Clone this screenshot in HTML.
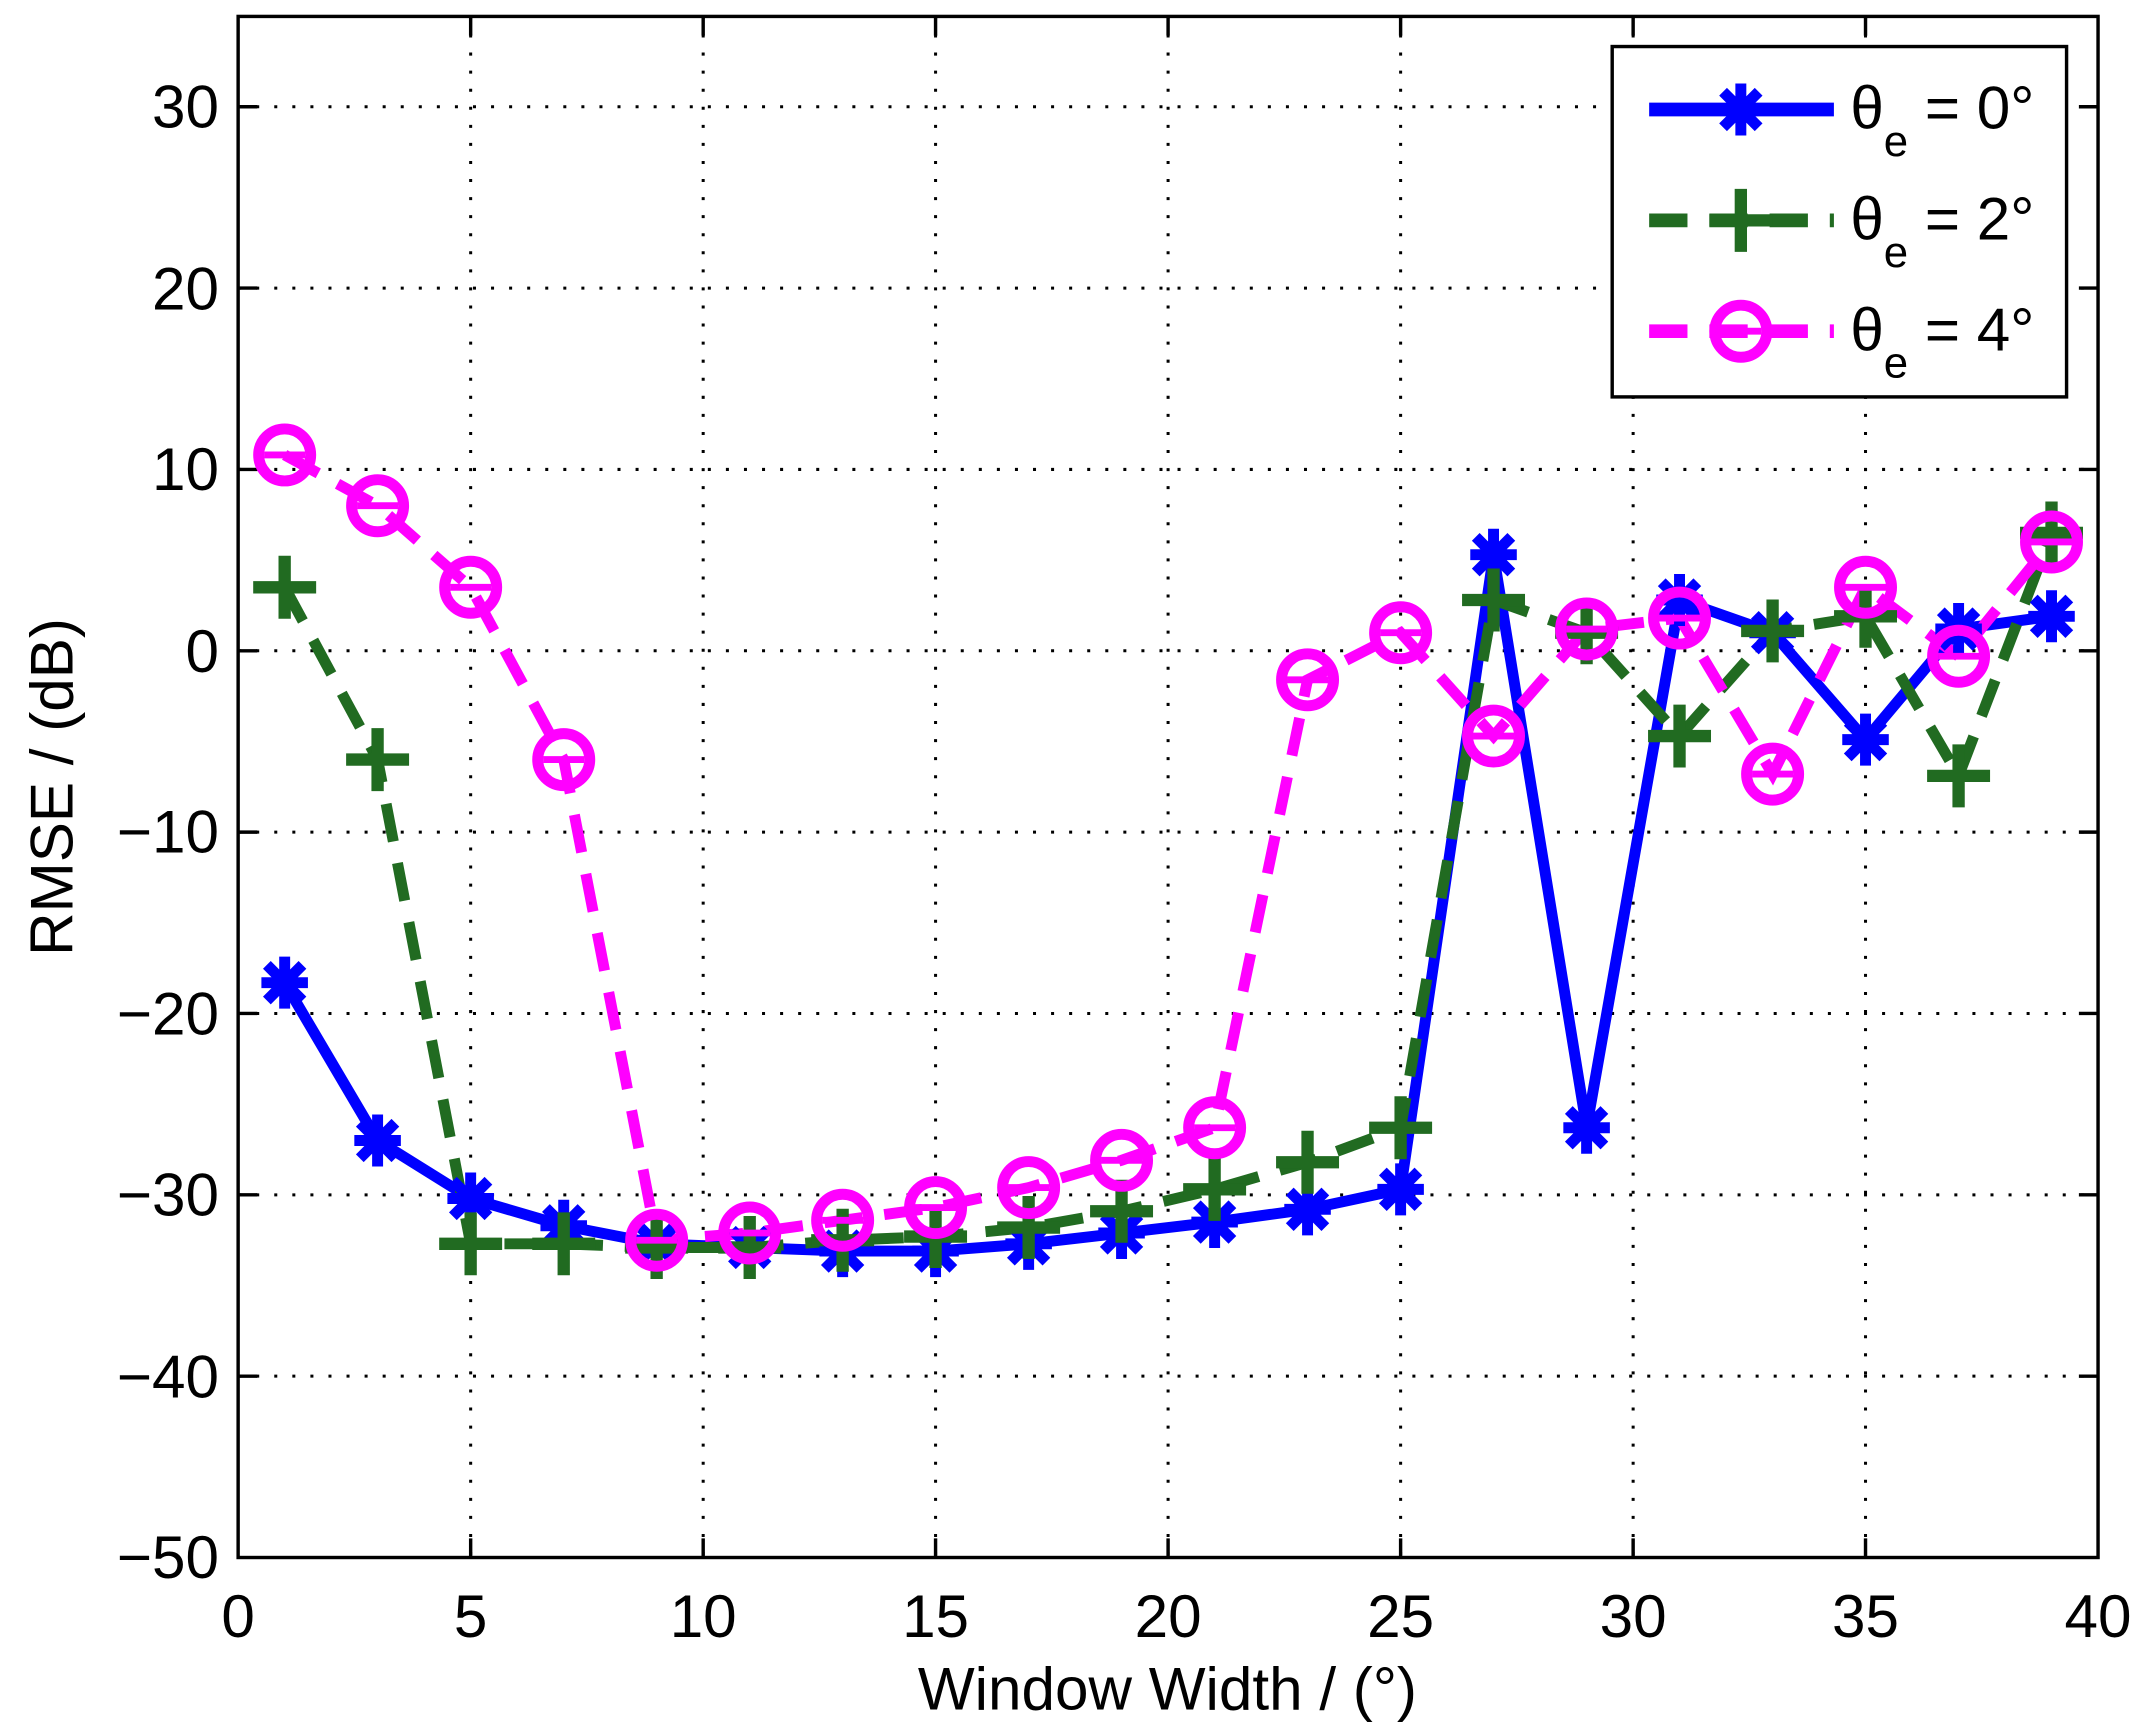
<!DOCTYPE html>
<html><head><meta charset="utf-8"><style>html,body{margin:0;padding:0;background:#fff}svg{display:block}</style></head>
<body>
<svg width="2135" height="1729" viewBox="0 0 1560 1263.3" preserveAspectRatio="none" xmlns="http://www.w3.org/2000/svg" font-family="Liberation Sans, sans-serif">
<rect width="1560" height="1264" fill="#fff"/>
<g stroke="#000" stroke-width="2.2" stroke-dasharray="2.2,11" fill="none">
<line x1="343.9" y1="12" x2="343.9" y2="1138"/><line x1="513.8" y1="12" x2="513.8" y2="1138"/><line x1="683.6" y1="12" x2="683.6" y2="1138"/><line x1="853.5" y1="12" x2="853.5" y2="1138"/><line x1="1023.4" y1="12" x2="1023.4" y2="1138"/><line x1="1193.3" y1="12" x2="1193.3" y2="1138"/><line x1="1363.1" y1="12" x2="1363.1" y2="1138"/>
<line x1="174" y1="78" x2="1533" y2="78"/><line x1="174" y1="210.5" x2="1533" y2="210.5"/><line x1="174" y1="343" x2="1533" y2="343"/><line x1="174" y1="475.5" x2="1533" y2="475.5"/><line x1="174" y1="608" x2="1533" y2="608"/><line x1="174" y1="740.5" x2="1533" y2="740.5"/><line x1="174" y1="873" x2="1533" y2="873"/><line x1="174" y1="1005.5" x2="1533" y2="1005.5"/>
</g>
<g stroke="#000" stroke-width="2.5" fill="none">
<rect x="174" y="12" width="1359" height="1126"/>
<path d="M343.9 1138v-14M513.8 1138v-14M683.6 1138v-14M853.5 1138v-14M1023.4 1138v-14M1193.3 1138v-14M1363.1 1138v-14M343.9 12v14M513.8 12v14M683.6 12v14M853.5 12v14M1023.4 12v14M1193.3 12v14M1363.1 12v14M174 78h14M174 210.5h14M174 343h14M174 475.5h14M174 608h14M174 740.5h14M174 873h14M174 1005.5h14M1533 78h-14M1533 210.5h-14M1533 343h-14M1533 475.5h-14M1533 608h-14M1533 740.5h-14M1533 873h-14M1533 1005.5h-14"/>
</g>
<g font-size="44" fill="#000" text-anchor="end">
<text x="160" y="93">30</text><text x="160" y="226">20</text><text x="160" y="358">10</text><text x="160" y="491">0</text><text x="160" y="623">−10</text><text x="160" y="756">−20</text><text x="160" y="888">−30</text><text x="160" y="1021">−40</text><text x="160" y="1153">−50</text>
</g>
<g font-size="44" fill="#000" text-anchor="middle">
<text x="174" y="1196">0</text><text x="343.9" y="1196">5</text><text x="513.8" y="1196">10</text><text x="683.6" y="1196">15</text><text x="853.5" y="1196">20</text><text x="1023.4" y="1196">25</text><text x="1193.3" y="1196">30</text><text x="1363.1" y="1196">35</text><text x="1533" y="1196">40</text>
<text x="853" y="1249">Window Width / (°)</text>
<text transform="translate(53,575) rotate(-90)">RMSE / (dB)</text>
</g>
<defs>
<g id="st" stroke="#0000ff" stroke-width="8"><path d="M-17 0H17M0 -19V19M-13 -13L13 13M-13 13L13 -13"/></g>
<g id="pl" stroke="#216b21" stroke-width="9"><path d="M-23 0H23M0 -23V23"/></g>
<g id="ci"><circle r="19" fill="none" stroke="#ff00ff" stroke-width="8"/><path d="M-15 0H15" stroke="#ff00ff" stroke-width="5"/></g>
</defs>
<polyline fill="none" stroke="#0000ff" stroke-width="8" stroke-linejoin="round" points="208,718 275.9,833.3 343.9,875.7 411.9,895.6 479.8,908.8 547.8,911.5 615.7,914.1 683.6,914.1 751.6,908.8 819.5,900.9 887.5,892.9 955.4,883.6 1023.4,869 1091.3,405.3 1159.3,824 1227.2,438.4 1295.2,462.3 1363.1,540.4 1431.1,459.6 1499,450.3"/>
<polyline fill="none" stroke="#216b21" stroke-width="8" stroke-dasharray="28,16" points="208,429.1 275.9,555 343.9,908.8 411.9,908.8 479.8,911.5 547.8,911.5 615.7,906.2 683.6,903.5 751.6,896.9 819.5,885 887.5,869 955.4,849.2 1023.4,824 1091.3,438.4 1159.3,462.3 1227.2,537.8 1295.2,461 1363.1,450.3 1431.1,566.9 1499,389.4"/>
<polyline fill="none" stroke="#ff00ff" stroke-width="8" stroke-dasharray="28,16" points="208,332.4 275.9,369.5 343.9,429.1 411.9,555 479.8,906.2 547.8,900.9 615.7,891.6 683.6,882.3 751.6,867.7 819.5,847.8 887.5,824 955.4,496.7 1023.4,462.3 1091.3,537.8 1159.3,459.6 1227.2,451.6 1295.2,565.6 1363.1,429.1 1431.1,479.5 1499,396"/>
<g>
<use href="#st" x="208" y="718"/><use href="#st" x="275.9" y="833.3"/><use href="#st" x="343.9" y="875.7"/><use href="#st" x="411.9" y="895.6"/><use href="#st" x="479.8" y="908.8"/><use href="#st" x="547.8" y="911.5"/><use href="#st" x="615.7" y="914.1"/><use href="#st" x="683.6" y="914.1"/><use href="#st" x="751.6" y="908.8"/><use href="#st" x="819.5" y="900.9"/><use href="#st" x="887.5" y="892.9"/><use href="#st" x="955.4" y="883.6"/><use href="#st" x="1023.4" y="869"/><use href="#st" x="1091.3" y="405.3"/><use href="#st" x="1159.3" y="824"/><use href="#st" x="1227.2" y="438.4"/><use href="#st" x="1295.2" y="462.3"/><use href="#st" x="1363.1" y="540.4"/><use href="#st" x="1431.1" y="459.6"/><use href="#st" x="1499" y="450.3"/>
<use href="#pl" x="208" y="429.1"/><use href="#pl" x="275.9" y="555"/><use href="#pl" x="343.9" y="908.8"/><use href="#pl" x="411.9" y="908.8"/><use href="#pl" x="479.8" y="911.5"/><use href="#pl" x="547.8" y="911.5"/><use href="#pl" x="615.7" y="906.2"/><use href="#pl" x="683.6" y="903.5"/><use href="#pl" x="751.6" y="896.9"/><use href="#pl" x="819.5" y="885"/><use href="#pl" x="887.5" y="869"/><use href="#pl" x="955.4" y="849.2"/><use href="#pl" x="1023.4" y="824"/><use href="#pl" x="1091.3" y="438.4"/><use href="#pl" x="1159.3" y="462.3"/><use href="#pl" x="1227.2" y="537.8"/><use href="#pl" x="1295.2" y="461"/><use href="#pl" x="1363.1" y="450.3"/><use href="#pl" x="1431.1" y="566.9"/><use href="#pl" x="1499" y="389.4"/>
<use href="#ci" x="208" y="332.4"/><use href="#ci" x="275.9" y="369.5"/><use href="#ci" x="343.9" y="429.1"/><use href="#ci" x="411.9" y="555"/><use href="#ci" x="479.8" y="906.2"/><use href="#ci" x="547.8" y="900.9"/><use href="#ci" x="615.7" y="891.6"/><use href="#ci" x="683.6" y="882.3"/><use href="#ci" x="751.6" y="867.7"/><use href="#ci" x="819.5" y="847.8"/><use href="#ci" x="887.5" y="824"/><use href="#ci" x="955.4" y="496.7"/><use href="#ci" x="1023.4" y="462.3"/><use href="#ci" x="1091.3" y="537.8"/><use href="#ci" x="1159.3" y="459.6"/><use href="#ci" x="1227.2" y="451.6"/><use href="#ci" x="1295.2" y="565.6"/><use href="#ci" x="1363.1" y="429.1"/><use href="#ci" x="1431.1" y="479.5"/><use href="#ci" x="1499" y="396"/>
</g>
<rect x="1178" y="34" width="332" height="256" fill="#fff" stroke="#000" stroke-width="2.5"/>
<path d="M1205 80H1340" stroke="#0000ff" stroke-width="10"/><use href="#st" x="1272" y="80"/>
<path d="M1205 161H1340" stroke="#216b21" stroke-width="10" stroke-dasharray="28,16"/><use href="#pl" x="1272" y="161"/>
<path d="M1205 242H1340" stroke="#ff00ff" stroke-width="10" stroke-dasharray="28,16"/><use href="#ci" x="1272" y="242"/>
<g font-size="44" fill="#000">
<text x="1352" y="94">θ<tspan font-size="32" dy="20">e</tspan><tspan dy="-20"> = 0°</tspan></text>
<text x="1352" y="175">θ<tspan font-size="32" dy="20">e</tspan><tspan dy="-20"> = 2°</tspan></text>
<text x="1352" y="256">θ<tspan font-size="32" dy="20">e</tspan><tspan dy="-20"> = 4°</tspan></text>
</g>
</svg>
</body></html>
